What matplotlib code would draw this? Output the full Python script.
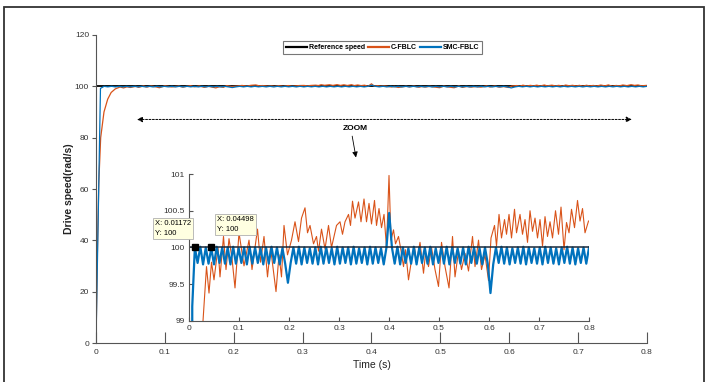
import matplotlib
matplotlib.use("Agg")
import matplotlib.pyplot as plt
from matplotlib.patches import Rectangle
import numpy as np

plt.rcParams['font.family'] = ['Liberation Sans', 'DejaVu Sans']

# reference speed (rad/s)
ref_t = [0.0, 0.8]
ref_v = [100.0, 100.0]

# SMC-FBLC: fast rise then sawtooth chattering round 100
smc_rise_t = [0.0, 0.0065]
smc_rise_v = [0.0, 99.2]
smc_v = [
    100.0, 99.79, 100.01, 99.77, 100.0, 99.78, 99.99, 99.77, 100.01, 99.79, 100.0, 99.78,
    100.0, 99.77, 100.01, 99.78, 99.99, 99.79, 100.0, 99.77, 100.01, 99.78, 100.0, 99.79,
    99.99, 99.77, 100.0, 99.78, 100.01, 99.79, 100.0, 99.77, 99.99, 99.78, 99.52, 99.79,
    100.0, 99.78, 100.01, 99.77, 100.0, 99.79, 99.99, 99.78, 100.0, 99.77, 100.01, 99.78,
    100.0, 99.79, 99.99, 99.77, 100.01, 99.78, 100.0, 99.79, 100.0, 99.77, 100.01, 99.78,
    99.99, 99.79, 100.0, 99.77, 100.01, 99.78, 100.0, 99.79, 99.99, 99.77, 100.0, 100.47,
    100.0, 99.78, 100.01, 99.77, 100.0, 99.79, 99.99, 99.78, 100.01, 99.77, 100.0, 99.79,
    100.0, 99.78, 100.01, 99.77, 99.99, 99.79, 100.0, 99.78, 100.01, 99.77, 100.0, 99.79,
    99.99, 99.78, 100.0, 99.77, 100.01, 99.79, 100.0, 99.78, 99.99, 99.77, 100.0, 99.78,
    99.38, 99.77, 100.0, 99.79, 100.01, 99.78, 100.0, 99.77, 99.99, 99.79, 100.0, 99.78,
    100.01, 99.77, 100.0, 99.79, 99.99, 99.78, 100.0, 99.77, 100.01, 99.79, 100.0, 99.78,
    99.99, 99.77, 100.0, 99.79, 100.01, 99.78, 100.0, 99.77, 99.99, 99.79, 100.0, 99.78,
    100.0,
]

# C-FBLC: slower rise, wandering oscillation
cf_t = [
    0.0, 0.002, 0.004, 0.0068, 0.0116, 0.017, 0.022, 0.028,
    0.035, 0.040, 0.045, 0.050, 0.058, 0.062, 0.069, 0.074, 0.080, 0.086, 0.092, 0.100,
    0.110, 0.120, 0.126, 0.137, 0.143, 0.150, 0.157, 0.163, 0.174, 0.180, 0.185, 0.190, 0.197,
    0.205, 0.212, 0.219, 0.225, 0.232, 0.237, 0.242, 0.249, 0.255, 0.259, 0.265, 0.272,
    0.279, 0.285, 0.295, 0.302, 0.307, 0.312, 0.319, 0.323, 0.327, 0.332, 0.339, 0.344,
    0.350, 0.355, 0.360, 0.365, 0.371, 0.375, 0.380, 0.385, 0.390, 0.395, 0.400,
    0.404, 0.409, 0.413, 0.419, 0.424, 0.429, 0.433, 0.439, 0.445, 0.451, 0.455, 0.462,
    0.469, 0.473, 0.479, 0.485, 0.492, 0.499, 0.505, 0.512, 0.520, 0.527, 0.532, 0.539,
    0.545, 0.552, 0.559, 0.567, 0.572, 0.579, 0.585, 0.592, 0.599,
    0.604, 0.611, 0.615, 0.620, 0.625, 0.631, 0.635, 0.640, 0.645, 0.651, 0.655, 0.662,
    0.667, 0.672, 0.677, 0.682, 0.687, 0.692, 0.697, 0.702, 0.707, 0.712, 0.717, 0.722,
    0.727, 0.733, 0.739, 0.744, 0.750, 0.755, 0.760, 0.765, 0.771, 0.777, 0.782, 0.787,
    0.792, 0.799,
]
cf_v = [
    0.0, 35.0, 62.0, 80.0, 90.0, 95.0, 97.6, 99.0,
    99.74, 99.38, 99.80, 99.56, 100.0, 99.60, 100.15, 99.70, 100.12, 99.85, 99.45, 100.2,
    99.75, 100.1, 99.70, 100.25, 99.80, 100.15, 99.60, 100.0, 99.40, 99.90, 99.60, 100.3, 99.90,
    100.1, 100.35, 100.08, 100.4, 100.54, 100.2, 100.3, 100.05, 100.15, 99.95, 100.25, 99.98,
    100.3, 100.0, 100.3, 100.35, 100.18, 100.35, 100.45, 100.3, 100.63, 100.4, 100.62, 100.35,
    100.66, 100.35, 100.6, 100.32, 100.64, 100.3, 100.53, 100.27, 100.45, 100.0, 100.98,
    100.1, 100.24, 100.05, 100.15, 99.96, 99.74, 99.97, 99.56, 99.83, 100.0, 99.80, 100.07,
    99.65, 99.92, 99.74, 100.0, 99.70, 99.47, 100.07, 99.74, 99.45, 100.15, 99.60, 99.95,
    99.70, 99.92, 99.68, 100.15, 99.74, 100.1, 99.70, 99.90, 99.55,
    100.13, 100.3, 100.02, 100.45, 100.13, 100.38, 100.18, 100.45, 100.13, 100.52, 100.2, 100.45,
    100.18, 100.38, 100.07, 100.5, 100.22, 100.4, 100.13, 100.38, 100.02, 100.42, 100.15, 100.35,
    100.13, 100.5, 100.18, 100.55, 99.97, 100.34, 100.2, 100.52, 100.27, 100.64, 100.36, 100.53,
    100.2, 100.36,
]

smc_t = np.concatenate([smc_rise_t, np.linspace(0.0117, 0.8, len(smc_v))])
smc_all = np.concatenate([smc_rise_v, smc_v])

# data tips from the original figure
tip_t = [0.01172, 0.04498]
tip_v = [100, 100]

c_ref = 'black'
c_cf = '#D95319'
c_smc = '#0072BD'
gray = '#555555'

xticks = [0, 0.1, 0.2, 0.3, 0.4, 0.5, 0.6, 0.7, 0.8]
xlabels = ['0', '0.1', '0.2', '0.3', '0.4', '0.5', '0.6', '0.7', '0.8']

fig = plt.figure(figsize=(7.1, 3.82), dpi=100)

# main axes
ax = fig.add_axes([0.1352, 0.102, 0.776, 0.8064])
l1, = ax.plot(ref_t, ref_v, color=c_ref, lw=1.3, label='Reference speed')
l2, = ax.plot(cf_t, cf_v, color=c_cf, lw=0.9, label='C-FBLC')
l3, = ax.plot(smc_t, smc_all, color=c_smc, lw=0.9, label='SMC-FBLC')
ax.set_xlim(0, 0.8)
ax.set_ylim(0, 120)
ax.set_xticks(xticks)
ax.set_xticklabels(xlabels)
ax.set_yticks([0, 20, 40, 60, 80, 100, 120])
for s in ['top', 'right']:
    ax.spines[s].set_visible(False)
for s in ['left', 'bottom']:
    ax.spines[s].set_color(gray)
    ax.spines[s].set_linewidth(0.8)
ax.tick_params(axis='x', direction='in', length=8, width=0.8, colors=gray,
               labelsize=6, pad=4)
ax.tick_params(axis='y', direction='out', length=3, width=0.8, colors=gray,
               labelsize=6, pad=2)
for lab in ax.get_xticklabels() + ax.get_yticklabels():
    lab.set_color('#333333')
ax.set_xlabel('Time (s)', fontsize=7.5, color='#222222', labelpad=3)
ax.set_ylabel('Drive speed(rad/s)', fontsize=7.5, fontweight='bold', color='#222222')
ax.yaxis.set_label_coords(-0.04, 0.5)

leg = fig.legend(handles=[l1, l2, l3], loc='upper center', ncol=3,
                 bbox_to_anchor=(0.539, 1 - 38 / 382),
                 prop=dict(size=5, weight='bold'),
                 handlelength=3.0, handletextpad=0.3, columnspacing=0.4,
                 borderpad=0.4, fancybox=False, framealpha=1)
leg.get_frame().set_edgecolor('#777777')
leg.get_frame().set_linewidth(0.8)
for ln in leg.get_lines():
    ln.set_linewidth(1.6)

# zoom arrows
ax.annotate('', xy=(0.0595, 87.1), xytext=(0.778, 87.1),
            arrowprops=dict(arrowstyle='<|-|>', color='black', lw=0.7,
                            linestyle=(0, (2, 1.5)), mutation_scale=8,
                            shrinkA=0, shrinkB=0))
ax.text(0.376, 83.4, 'ZOOM', fontsize=6, fontweight='bold', ha='center', va='center')
ax.annotate('', xy=(0.3775, 72.3), xytext=(0.372, 80.6),
            arrowprops=dict(arrowstyle='-|>', color='black', lw=0.6,
                            mutation_scale=8, shrinkA=0, shrinkB=0))

# inset
axi = fig.add_axes([0.2662, 0.1597, 0.5634, 0.3848])
axi.plot(cf_t, cf_v, color=c_cf, lw=0.8)
axi.plot(smc_t, smc_all, color=c_smc, lw=1.6)
axi.plot(ref_t, ref_v, color='#1a2a3a', lw=1.1)
axi.plot(tip_t, tip_v, 's', color='black', ms=4, zorder=5)
axi.set_xlim(0, 0.8)
axi.set_ylim(99, 101)
axi.set_xticks(xticks)
axi.set_xticklabels(xlabels)
axi.set_yticks([99, 99.5, 100, 100.5, 101])
axi.set_yticklabels(['99', '99.5', '100', '100.5', '101'])
axi.patch.set_alpha(0)
for s in ['top', 'right']:
    axi.spines[s].set_visible(False)
for s in ['left', 'bottom']:
    axi.spines[s].set_color(gray)
    axi.spines[s].set_linewidth(0.8)
axi.tick_params(direction='in', length=3, width=0.8, colors=gray, labelsize=6, pad=3)
for lab in axi.get_xticklabels() + axi.get_yticklabels():
    lab.set_color('#333333')

# data tip boxes
tip_box = dict(boxstyle='square,pad=0.3', fc='#FFFFE1', ec='#B0B0B0', lw=0.6)
fig.text(155 / 710, 1 - 220 / 382, 'X: 0.01172\nY: 100', fontsize=5.5, ha='left', va='top',
         linespacing=1.6, bbox=tip_box, zorder=10)
fig.text(217 / 710, 1 - 216 / 382, 'X: 0.04498\nY: 100', fontsize=5.5, ha='left', va='top',
         linespacing=1.6, bbox=tip_box, zorder=10)

# outer frame of the original picture
fig.patches.append(Rectangle((4 / 710, -0.02), 700 / 710, 1.02 - 7 / 382,
                             transform=fig.transFigure, fill=False,
                             ec='#333333', lw=1.3))

fig.savefig('out.png', dpi=100)
